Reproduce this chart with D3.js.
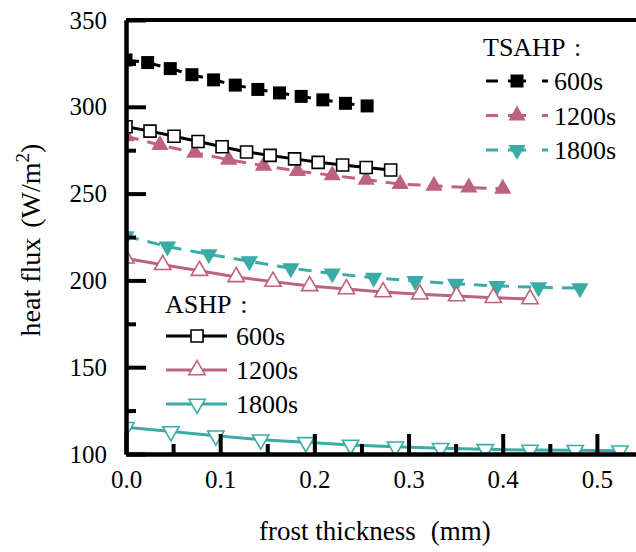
<!DOCTYPE html>
<html>
<head>
<meta charset="utf-8">
<script src="https://cdn.jsdelivr.net/npm/d3@7"></script>
<style>
    body { margin: 0; background: #fff; }
    svg text { font-family: "Liberation Serif", "Times New Roman", serif; fill: #000; }
</style>
</head>
<body>
<div id="chart"></div>
<script>
// frost thickness (mm) / heat flux (W/m2)
const thickTS600 = [0, 0.023, 0.047, 0.070, 0.093, 0.116, 0.140, 0.163, 0.186, 0.209, 0.233, 0.256];
const fluxTS600 = [327, 325.5, 322, 318.5, 315.5, 312.5, 310, 308, 306, 304, 302, 300.5];

const thickTS1200 = [0, 0.036, 0.073, 0.109, 0.146, 0.182, 0.219, 0.255, 0.291, 0.327, 0.364, 0.400];
const fluxTS1200 = [283, 278, 273.5, 269.5, 266, 263, 260.5, 258, 255.5, 254.5, 253.5, 252.8];

const thickTS1800 = [0, 0.044, 0.088, 0.131, 0.175, 0.219, 0.263, 0.307, 0.350, 0.394, 0.438, 0.482];
const fluxTS1800 = [225.5, 219.5, 215, 211, 207, 204, 201.5, 199.7, 198, 196.8, 196, 195.5];

const thickAS600 = [0, 0.0255, 0.051, 0.0765, 0.102, 0.128, 0.153, 0.179, 0.204, 0.230, 0.255, 0.281];
const fluxAS600 = [288.5, 286, 283, 280, 277, 274, 272, 270, 268, 266.5, 265, 263.6];

const thickAS1200 = [0, 0.039, 0.078, 0.117, 0.156, 0.195, 0.234, 0.273, 0.312, 0.351, 0.390, 0.429];
const fluxAS1200 = [212.7, 209, 205.6, 202, 199.3, 196.8, 195, 193.3, 192, 191, 190, 189.3];

const thickAS1800 = [0, 0.0477, 0.0954, 0.143, 0.191, 0.2385, 0.286, 0.334, 0.3815, 0.429, 0.477, 0.5245];
const fluxAS1800 = [115.4, 113, 110.5, 108.2, 106.7, 105.2, 104.2, 103.3, 102.7, 102.3, 102.2, 101.9];

const xTicks = [0, 0.1, 0.2, 0.3, 0.4, 0.5];
const xMinor = [0.05, 0.15, 0.25, 0.35, 0.45];
const yTicks = [100, 150, 200, 250, 300, 350];
const yMinor = [125, 175, 225, 275, 325];

const pink = "#bd6282", teal = "#3aaca8";

function zip(xs, ys){ return xs.map(function(x, i){ return {x: x, y: ys[i]}; }); }

const series = [
    {name: "600s",  group: "TSAHP", data: zip(thickTS600, fluxTS600),   color: "#000", symbol: "square", filled: true},
    {name: "1200s", group: "TSAHP", data: zip(thickTS1200, fluxTS1200), color: pink,   symbol: "up",     filled: true},
    {name: "1800s", group: "TSAHP", data: zip(thickTS1800, fluxTS1800), color: teal,   symbol: "down",   filled: true},
    {name: "600s",  group: "ASHP",  data: zip(thickAS600, fluxAS600),   color: "#000", symbol: "square", filled: false},
    {name: "1200s", group: "ASHP",  data: zip(thickAS1200, fluxAS1200), color: pink,   symbol: "up",     filled: false},
    {name: "1800s", group: "ASHP",  data: zip(thickAS1800, fluxAS1800), color: teal,   symbol: "down",   filled: false}
];

const margin = {top: 20, left: 126},
    width = 518,
    height = 434;

const svg = d3.select("#chart")
    .append("svg")
    .attr("width", 636)
    .attr("height", 552);

const g = svg.append("g")
    .attr("transform", "translate(" + margin.left + "," + margin.top + ")");

const xScale = d3.scaleLinear().domain([0, 0.55]).range([0, width]);
const yScale = d3.scaleLinear().domain([100, 350]).range([height, 0]);

g.append("clipPath").attr("id", "plot-clip")
    .append("rect").attr("x", 0).attr("y", 0).attr("width", width).attr("height", height);

const plot = g.append("g").attr("clip-path", "url(#plot-clip)");

const line = d3.line()
    .x(function(d){ return xScale(d.x); })
    .y(function(d){ return yScale(d.y); });

function symbolPath(s){
    if (s.symbol === "square") return d3.symbol(d3.symbolSquare, s.filled ? 169 : 144)();
    return d3.symbol(d3.symbolTriangle, s.filled ? 130 : 115)();
}

function addMarker(sel, s){
    return sel.append("path")
        .attr("d", symbolPath(s))
        .attr("fill", s.filled ? s.color : "#fff")
        .attr("stroke", s.filled ? "none" : s.color)
        .attr("stroke-width", 1.6);
}

// lines
series.forEach(function(s){
    plot.append("path")
        .datum(s.data)
        .attr("d", line)
        .attr("fill", "none")
        .attr("stroke", s.color)
        .attr("stroke-width", 3)
        .attr("stroke-dasharray", s.group === "TSAHP" ? "13,9" : null);
});

// markers
series.forEach(function(s){
    plot.selectAll(null)
        .data(s.data)
        .enter()
        .append("g")
        .attr("transform", function(d){
            return "translate(" + xScale(d.x) + "," + yScale(d.y) + ")" + (s.symbol === "down" ? " rotate(180)" : "");
        })
        .each(function(){ addMarker(d3.select(this), s); });
});

// axes
function styleAxis(sel){
    sel.attr("font-family", null).attr("font-size", null);
    sel.selectAll(".domain").attr("stroke", "#000").attr("stroke-width", 4);
    sel.selectAll(".tick line").attr("stroke", "#000").attr("stroke-width", 4);
    sel.selectAll("text").style("font-size", "25px").attr("fill", "#000");
}

g.append("g")
    .attr("transform", "translate(0," + height + ")")
    .call(d3.axisBottom(xScale).tickValues(xMinor).tickSizeInner(-10).tickSizeOuter(0).tickFormat(""))
    .call(styleAxis);

g.append("g")
    .attr("transform", "translate(0," + height + ")")
    .call(d3.axisBottom(xScale).tickValues(xTicks).tickSizeInner(-20).tickSizeOuter(0).tickPadding(16).tickFormat(d3.format(".1f")))
    .call(styleAxis);

g.append("g")
    .call(d3.axisLeft(yScale).tickValues(yMinor).tickSizeInner(-10).tickSizeOuter(0).tickFormat(""))
    .call(styleAxis);

g.append("g")
    .call(d3.axisLeft(yScale).tickValues(yTicks).tickSizeInner(-20).tickSizeOuter(0).tickPadding(19))
    .call(styleAxis);

// top and right frame
g.append("line").attr("x1", 0).attr("x2", width).attr("y1", 0).attr("y2", 0)
    .attr("stroke", "#000").attr("stroke-width", 4);
g.append("line").attr("x1", width).attr("x2", width).attr("y1", 0).attr("y2", height)
    .attr("stroke", "#000").attr("stroke-width", 4);

// axis titles
const xTitle = svg.append("text")
    .attr("x", 259)
    .attr("y", 540)
    .style("font-size", "27px");
xTitle.append("tspan").text("frost thickness");
xTitle.append("tspan").attr("dx", 15).text("(mm)");

const yTitle = svg.append("text")
    .attr("transform", "translate(40,240) rotate(-90)")
    .attr("text-anchor", "middle")
    .style("font-size", "28px");
yTitle.append("tspan").text("heat flux");
yTitle.append("tspan").attr("dx", 10).text("(W/m");
yTitle.append("tspan").attr("dy", -11).style("font-size", "19px").text("2");
yTitle.append("tspan").attr("dy", 11).text(")");

// legends
const legendTS = svg.append("g");
legendTS.append("text").attr("x", 483).attr("y", 56).style("font-size", "26px").text("TSAHP\u2004:");
series.filter(function(s){ return s.group === "TSAHP"; }).forEach(function(s, i){
    const cy = 81 + i * 34.5;
    legendTS.append("line")
        .attr("x1", 486).attr("x2", 548).attr("y1", cy).attr("y2", cy)
        .attr("stroke", s.color).attr("stroke-width", 3)
        .attr("stroke-dasharray", "12,10,18,16,6");
    addMarker(legendTS.append("g")
        .attr("transform", "translate(517," + cy + ")" + (s.symbol === "down" ? " rotate(180)" : "")), s);
    legendTS.append("text").attr("x", 554).attr("y", cy + 9).style("font-size", "26px").text(s.name);
});

const legendAS = svg.append("g");
legendAS.append("text").attr("x", 165).attr("y", 313).style("font-size", "26px").text("ASHP\u2004:");
series.filter(function(s){ return s.group === "ASHP"; }).forEach(function(s, i){
    const cy = 336 + i * 34;
    legendAS.append("line")
        .attr("x1", 166).attr("x2", 227).attr("y1", cy).attr("y2", cy)
        .attr("stroke", s.color).attr("stroke-width", 3);
    addMarker(legendAS.append("g")
        .attr("transform", "translate(197," + cy + ")" + (s.symbol === "down" ? " rotate(180)" : "")), s);
    legendAS.append("text").attr("x", 236).attr("y", cy + 9).style("font-size", "26px").text(s.name);
});
</script>
</body>
</html>
